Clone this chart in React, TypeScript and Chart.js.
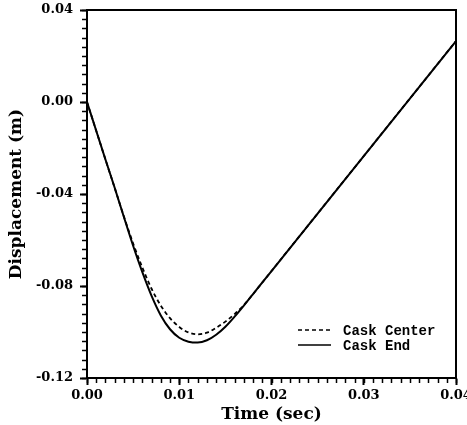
import React, { useEffect, useRef } from "react";
import { Chart, registerables } from "chart.js";

Chart.register(...registerables);

const timeSec = [0, 0.001, 0.002, 0.003, 0.004, 0.005, 0.006, 0.007, 0.008, 0.009, 0.01, 0.011, 0.012, 0.013, 0.014, 0.015, 0.016, 0.017, 0.018, 0.02, 0.025, 0.03, 0.035, 0.04];
const caskCenter = [0, -0.0125, -0.025, -0.0373, -0.0498, -0.0615, -0.072, -0.0812, -0.0885, -0.094, -0.0978, -0.1002, -0.101, -0.1003, -0.0982, -0.0955, -0.0922, -0.0883, -0.0835, -0.0735, -0.0485, -0.0235, 0.0015, 0.0265];
const caskEnd = [0, -0.0125, -0.025, -0.0373, -0.05, -0.0625, -0.074, -0.0843, -0.0928, -0.0988, -0.1025, -0.1042, -0.1046, -0.1036, -0.1012, -0.0977, -0.0933, -0.0885, -0.0835, -0.0735, -0.0485, -0.0235, 0.0015, 0.0265];
const seriesLabels = ["Cask Center", "Cask End"];
const xMin = 0, xMax = 0.04, xMajor = 0.01, xMinor = 0.001;
const yMin = -0.12, yMax = 0.04, yMajor = 0.04, yMinor = 0.004;

const tickFont = { family: "'DejaVu Serif', serif", weight: "bold" as const, size: 13 };
const titleFont = { family: "'DejaVu Serif', serif", weight: "bold" as const, size: 17 };

const framePlugin = {
  id: "frameAndMinor",
  afterDraw(chart: any) {
    const { ctx, chartArea } = chart;
    const xs = chart.scales.x;
    const ys = chart.scales.y;
    ctx.save();
    ctx.strokeStyle = "#000";
    ctx.lineWidth = 1.5;
    const nx = Math.round((xMax - xMin) / xMinor);
    for (let i = 0; i <= nx; i++) {
      const px = Math.round(xs.getPixelForValue(xMin + i * xMinor)) + 0.5;
      ctx.beginPath();
      ctx.moveTo(px, chartArea.bottom);
      ctx.lineTo(px, chartArea.bottom + 5);
      ctx.stroke();
    }
    const ny = Math.round((yMax - yMin) / yMinor);
    for (let i = 0; i <= ny; i++) {
      const py = Math.round(ys.getPixelForValue(yMin + i * yMinor)) + 0.5;
      ctx.beginPath();
      ctx.moveTo(chartArea.left - 5, py);
      ctx.lineTo(chartArea.left, py);
      ctx.stroke();
    }
    ctx.lineWidth = 2;
    ctx.strokeRect(chartArea.left, chartArea.top, chartArea.right - chartArea.left, chartArea.bottom - chartArea.top);
    ctx.font = "bold 14px 'Liberation Mono', monospace";
    ctx.textBaseline = "middle";
    ctx.fillStyle = "#000";
    const textX = chartArea.right - 113;
    chart.data.datasets.forEach((ds: any, i: number) => {
      const y = chartArea.bottom - 48 + i * 15;
      ctx.beginPath();
      ctx.lineWidth = 1.5;
      ctx.setLineDash(ds.borderDash || []);
      ctx.moveTo(textX - 45, y);
      ctx.lineTo(textX - 12, y);
      ctx.stroke();
      ctx.setLineDash([]);
      ctx.fillText(ds.label, textX, y + 1);
    });
    ctx.restore();
  },
};

export default function App() {
  const ref = useRef<HTMLCanvasElement>(null);
  useEffect(() => {
    document.body.style.margin = "0";
    const mk = (vals: number[]) => timeSec.map((t, i) => ({ x: t, y: vals[i] }));
    const chart = new Chart(ref.current!, {
      type: "line",
      data: {
        datasets: [
          { label: seriesLabels[0], data: mk(caskCenter), borderColor: "#000", borderWidth: 1.8, borderDash: [4, 3], pointRadius: 0, cubicInterpolationMode: "monotone", fill: false },
          { label: seriesLabels[1], data: mk(caskEnd), borderColor: "#000", borderWidth: 2, pointRadius: 0, cubicInterpolationMode: "monotone", fill: false },
        ],
      },
      options: {
        animation: false,
        responsive: false,
        layout: { padding: { left: 0, right: 11, top: 10, bottom: 0 } },
        plugins: { legend: { display: false }, tooltip: { enabled: false } },
        scales: {
          x: {
            type: "linear",
            min: xMin,
            max: xMax,
            afterFit(s: any) { s.height = 47; s.paddingLeft = 0; s.paddingRight = 0; },
            ticks: { stepSize: xMajor, color: "#000", font: tickFont, padding: 3, maxRotation: 0, callback: (v: any) => Number(v).toFixed(2) },
            grid: { drawOnChartArea: false, drawTicks: true, tickLength: 7, tickWidth: 2, tickColor: "#000" },
            border: { display: true, color: "#000", width: 2 },
            title: { display: true, text: "Time (sec)", color: "#000", font: titleFont, padding: { top: 0, bottom: 0 } },
          },
          y: {
            type: "linear",
            min: yMin,
            max: yMax,
            afterFit(s: any) { s.width = 87; s.paddingTop = 0; s.paddingBottom = 0; },
            ticks: { stepSize: yMajor, color: "#000", font: tickFont, padding: 7, callback: (v: any) => Number(v).toFixed(2) },
            grid: { drawOnChartArea: false, drawTicks: true, tickLength: 7, tickWidth: 2, tickColor: "#000" },
            border: { display: true, color: "#000", width: 2 },
            title: { display: true, text: "Displacement (m)", color: "#000", font: titleFont, padding: { top: 6, bottom: 0 } },
          },
        },
      },
      plugins: [framePlugin],
    });
    return () => chart.destroy();
  }, []);
  return (
    <div style={{ width: 467, height: 425 }}>
      <canvas ref={ref} width={467} height={425} />
    </div>
  );
}
